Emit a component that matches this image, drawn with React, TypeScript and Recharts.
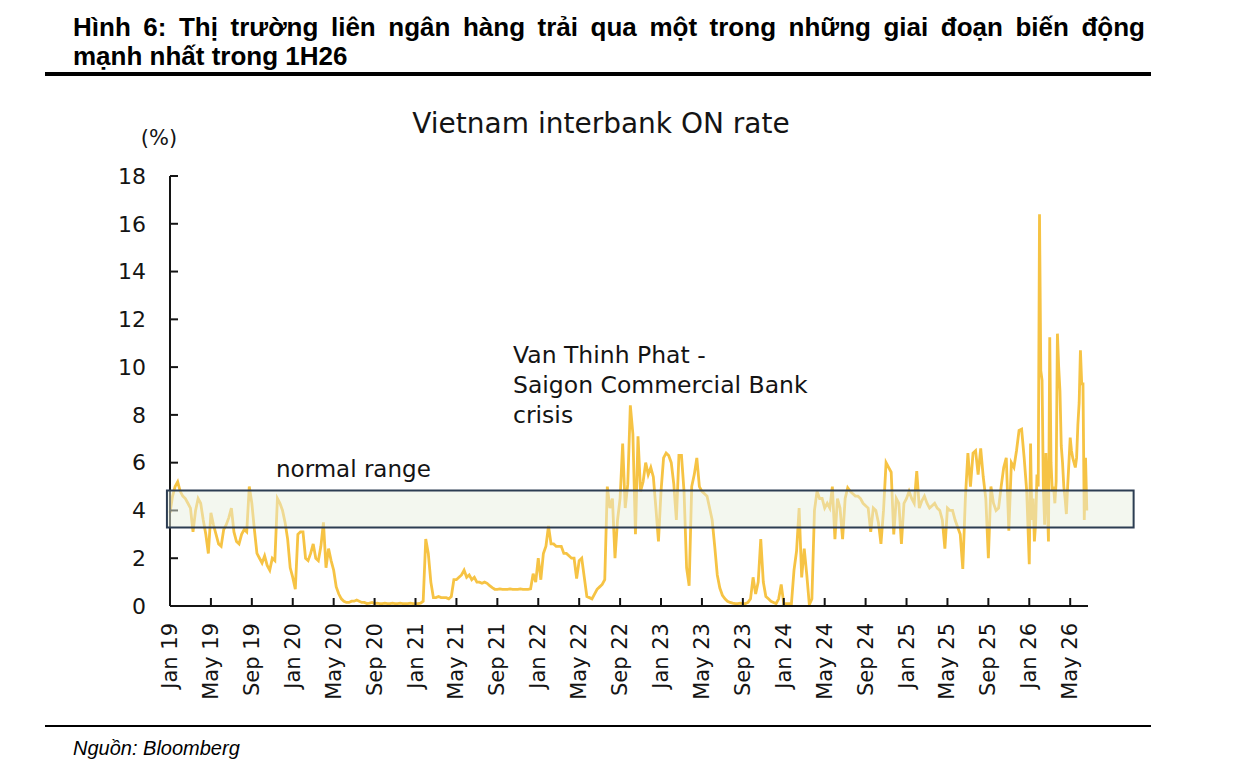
import { LineChart, Line, XAxis, YAxis, ReferenceArea } from "recharts";

const FONT = '"DejaVu Sans", Verdana, sans-serif';
const INK = "#141414";
const LINE_COLOR = "#f6c344";

// x = months since Jan 2019
const tickMonths = [0, 4, 8, 12, 16, 20, 24, 28, 32, 36, 40, 44, 48, 52, 56, 60, 64, 68, 72, 76, 80, 84, 88];
const tickLabels = [
  "Jan 19", "May 19", "Sep 19", "Jan 20", "May 20", "Sep 20", "Jan 21", "May 21",
  "Sep 21", "Jan 22", "May 22", "Sep 22", "Jan 23", "May 23", "Sep 23", "Jan 24",
  "May 24", "Sep 24", "Jan 25", "May 25", "Sep 25", "Jan 26", "May 26",
];
const rateTicks = [0, 2, 4, 6, 8, 10, 12, 14, 16, 18];

// normal range band (%)
const normalLow = 3.29;
const normalHigh = 4.83;

// ON rate, weekly readings (4 per month)
const rates2019 = [
  3.9, 4.6, 5.0, 5.2, 4.8, 4.6, 4.5, 4.3, 4.1, 3.1, 4.0, 4.5,
  4.3, 3.6, 3.0, 2.2, 3.9, 3.4, 3.0, 2.6, 2.5, 3.2, 3.4, 3.7,
  4.1, 3.1, 2.7, 2.6, 3.0, 3.2, 3.1, 5.0, 4.3, 3.2, 2.2, 2.0,
  1.8, 2.1, 1.7, 1.5, 2.0, 1.9, 4.5, 4.3, 4.0, 3.5, 2.8, 1.6,
];
const rates2020 = [
  1.2, 0.7, 3.0, 3.1, 3.1, 2.0, 1.9, 2.2, 2.6, 2.0, 1.9, 2.5,
  3.5, 1.6, 2.4, 1.9, 1.5, 0.8, 0.5, 0.3, 0.2, 0.15, 0.15, 0.2,
  0.2, 0.25, 0.2, 0.15, 0.15, 0.1, 0.12, 0.15, 0.1, 0.12, 0.1, 0.1,
  0.12, 0.1, 0.1, 0.12, 0.1, 0.1, 0.12, 0.1, 0.1, 0.1, 0.12, 0.1,
];
const rates2021 = [
  0.1, 0.1, 0.12, 0.2, 2.8, 2.2, 1.0, 0.35, 0.35, 0.4, 0.35, 0.35,
  0.35, 0.3, 0.4, 1.1, 1.1, 1.2, 1.3, 1.5, 1.2, 1.3, 1.1, 1.2,
  1.0, 1.0, 0.95, 1.0, 0.95, 0.85, 0.77, 0.7, 0.7, 0.72, 0.7, 0.7,
  0.7, 0.72, 0.7, 0.7, 0.7, 0.72, 0.7, 0.7, 0.7, 0.72, 1.35, 1.0,
];
const rates2022 = [
  2.0, 1.1, 2.2, 2.5, 3.35, 2.6, 2.6, 2.5, 2.5, 2.5, 2.2, 2.2,
  2.1, 2.0, 2.0, 1.15, 1.9, 2.0, 1.2, 0.4, 0.35, 0.3, 0.5, 0.7,
  0.8, 0.9, 1.1, 5.0, 4.1, 4.5, 2.0, 3.6, 4.5, 6.8, 4.1, 5.1,
  8.4, 7.2, 3.0, 7.1, 4.8, 5.2, 6.0, 5.5, 5.8, 5.4, 4.1, 2.7,
];
const rates2023 = [
  4.8, 6.2, 6.4, 6.3, 6.0, 5.1, 3.6, 6.3, 6.3, 4.8, 1.6, 0.85,
  5.0, 5.5, 6.2, 5.0, 4.8, 4.7, 4.6, 4.1, 3.6, 2.5, 1.3, 0.75,
  0.45, 0.3, 0.2, 0.15, 0.12, 0.1, 0.1, 0.12, 0.1, 0.1, 0.15, 0.3,
  1.2, 0.5, 1.0, 2.8, 1.0, 0.4, 0.3, 0.2, 0.15, 0.1, 0.3, 0.9,
];
const rates2024 = [
  0.1, 0.1, 0.1, 0.1, 1.5, 2.3, 4.1, 1.2, 2.4, 1.3, 0.05, 0.3,
  4.0, 4.8, 4.5, 4.5, 4.1, 4.3, 4.1, 5.0, 2.8, 4.5, 4.1, 2.8,
  4.5, 4.95, 4.8, 4.7, 4.6, 4.6, 4.5, 4.3, 4.2, 4.1, 3.1, 4.1,
  4.0, 3.5, 2.6, 4.0, 6.0, 5.8, 5.6, 3.0, 4.5, 4.3, 2.6, 4.3,
];
const rates2025 = [
  4.5, 4.8, 4.5, 4.3, 5.65, 4.1, 4.4, 4.6, 4.3, 4.1, 4.2, 4.3,
  4.1, 4.0, 3.6, 2.4, 4.1, 4.0, 4.0, 3.6, 3.3, 3.0, 1.55, 4.5,
  6.4, 5.0, 6.4, 6.5, 5.5, 6.6, 5.4, 4.5, 2.0, 5.0, 4.3, 4.0,
  4.1, 5.0, 5.8, 6.2, 3.15, 6.0, 5.8, 6.5, 7.35, 7.4, 6.2, 4.8,
];
// 2026 read more finely (8 per month)
const rates2026 = [
  1.75, 6.8, 3.6, 4.5, 2.7, 3.5, 5.5, 5.0,
  16.4, 9.85, 9.45, 5.0, 3.4, 6.4, 4.5, 2.7,
  11.25, 6.0, 4.8, 5.0, 4.3, 5.2, 11.4, 10.0,
  9.0, 6.7, 6.0, 5.0, 4.5, 3.85, 5.0, 6.0,
  7.05, 6.5, 6.2, 6.0, 5.8, 6.2, 7.6, 8.5,
  10.7, 9.3, 9.3, 3.6, 6.2, 4.0,
];

function toPoints(start: number, step: number, values: number[]) {
  return values.map((rate, i) => ({ t: start + i * step, rate }));
}

const data = [
  ...toPoints(0, 0.25, rates2019),
  ...toPoints(12, 0.25, rates2020),
  ...toPoints(24, 0.25, rates2021),
  ...toPoints(36, 0.25, rates2022),
  ...toPoints(48, 0.25, rates2023),
  ...toPoints(60, 0.25, rates2024),
  ...toPoints(72, 0.25, rates2025),
  ...toPoints(84, 0.125, rates2026),
];

function MonthTick(props: any) {
  const { x, y, payload } = props;
  const label = tickLabels[tickMonths.indexOf(payload.value)] ?? "";
  return (
    <text
      x={x}
      y={y}
      transform={`rotate(-90 ${x} ${y})`}
      textAnchor="end"
      dominantBaseline="central"
      fontSize={21}
      fontFamily={FONT}
      fill={INK}
    >
      {label}
    </text>
  );
}

export default function App() {
  return (
    <div style={{ position: "absolute", left: 0, top: 0, width: 1251, height: 772, background: "#fff" }}>
      <div
        style={{
          position: "absolute",
          left: 73,
          top: 13,
          width: 1072,
          font: 'bold 26px/29px "Liberation Sans", Arial, sans-serif',
          color: "#000",
        }}
      >
        <div style={{ textAlign: "justify", textAlignLast: "justify" }}>
          Hình 6: Thị trường liên ngân hàng trải qua một trong những giai đoạn biến động
        </div>
        <div>mạnh nhất trong 1H26</div>
      </div>
      <div style={{ position: "absolute", left: 45, top: 72, width: 1106, height: 4, background: "#000" }} />

      <div style={{ position: "absolute", left: 0, top: 0 }}>
        <LineChart width={1251} height={772} data={data} margin={{ top: 176, right: 163, bottom: 66, left: 0 }}>
          <XAxis
            type="number"
            dataKey="t"
            domain={[0, 89.74]}
            ticks={tickMonths}
            interval={0}
            height={100}
            stroke={INK}
            strokeWidth={2}
            tickSize={-8}
            tickMargin={25}
            tick={<MonthTick />}
          />
          <YAxis
            type="number"
            domain={[0, 18]}
            ticks={rateTicks}
            interval={0}
            width={170}
            stroke={INK}
            strokeWidth={2}
            tickSize={-8}
            tickMargin={32}
            tick={{ fill: INK, fontSize: 22, fontFamily: FONT }}
          />
          <Line
            type="linear"
            dataKey="rate"
            stroke={LINE_COLOR}
            strokeWidth={2.8}
            dot={false}
            activeDot={false}
            isAnimationActive={false}
          />
          <ReferenceArea
            x1={-0.3}
            x2={94.2}
            y1={normalLow}
            y2={normalHigh}
            ifOverflow="visible"
            fill="#e7efdf"
            fillOpacity={0.5}
            stroke="#2c3d52"
            strokeWidth={2}
            zIndex={600}
          />
        </LineChart>
      </div>

      <svg
        width={1251}
        height={772}
        style={{ position: "absolute", left: 0, top: 0, pointerEvents: "none" }}
        fontFamily={FONT}
        fill={INK}
      >
        <text x={601} y={133} fontSize={28} textAnchor="middle">
          Vietnam interbank ON rate
        </text>
        <text x={159} y={145} fontSize={21} textAnchor="middle">
          (%)
        </text>
        <text x={276} y={477} fontSize={23}>
          normal range
        </text>
        <text x={513} y={363} fontSize={23.5}>
          Van Thinh Phat -
        </text>
        <text x={513} y={393} fontSize={23.5}>
          Saigon Commercial Bank
        </text>
        <text x={513} y={423} fontSize={23.5}>
          crisis
        </text>
        <rect x={45} y={725} width={1106} height={2} fill="#000" />
        <text
          x={73}
          y={755}
          fontSize={20}
          fontStyle="italic"
          fontFamily='"Liberation Sans", Arial, sans-serif'
          fill="#000"
        >
          Nguồn: Bloomberg
        </text>
      </svg>
    </div>
  );
}
